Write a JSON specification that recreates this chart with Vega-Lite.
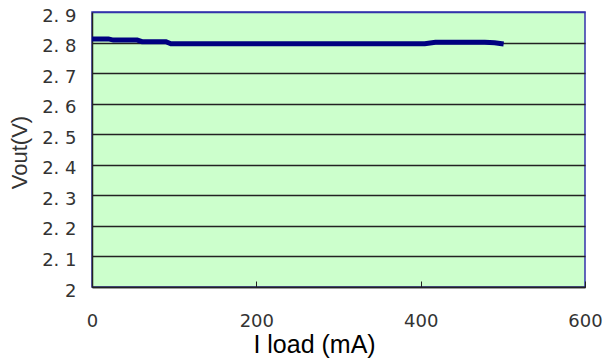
{
  "$schema": "https://vega.github.io/schema/vega-lite/v6.json",
  "autosize": {"type": "none"},
  "padding": {"left": 92, "top": 12, "right": 22, "bottom": 77},
  "width": 493,
  "height": 275,
  "background": "white",
  "config": {
    "view": {"fill": "#ccffcc", "stroke": "#3333aa", "strokeWidth": 1.5}
  },
  "data": {
    "values": [
      {"I": 0, "V": 2.812},
      {"I": 20, "V": 2.812},
      {"I": 26, "V": 2.808},
      {"I": 55, "V": 2.808},
      {"I": 61, "V": 2.803},
      {"I": 90, "V": 2.803},
      {"I": 96, "V": 2.796},
      {"I": 200, "V": 2.796},
      {"I": 300, "V": 2.796},
      {"I": 405, "V": 2.796},
      {"I": 418, "V": 2.801},
      {"I": 478, "V": 2.801},
      {"I": 490, "V": 2.799},
      {"I": 501, "V": 2.795}
    ]
  },
  "mark": {"type": "line", "color": "#000080", "strokeWidth": 5, "clip": true},
  "encoding": {
    "x": {
      "field": "I",
      "type": "quantitative",
      "scale": {"domain": [0, 600], "nice": false},
      "axis": {
        "values": [0, 200, 400, 600],
        "grid": false,
        "domainColor": "#222",
        "domainWidth": 1.5,
        "tickColor": "#222",
        "tickSize": -6,
        "labelFlush": false,
        "labelPadding": 31,
        "labelFont": "DejaVu Sans",
        "labelFontSize": 18,
        "labelColor": "#333",
        "title": "I load (mA)",
        "titleFont": "Liberation Sans",
        "titleFontSize": 25,
        "titleFontWeight": "normal",
        "titleColor": "#000",
        "titleX": 222,
        "titleY": 65,
        "titleAlign": "center",
        "titleBaseline": "alphabetic"
      }
    },
    "y": {
      "field": "V",
      "type": "quantitative",
      "scale": {"domain": [2, 2.9], "nice": false, "zero": false},
      "axis": {
        "values": [2, 2.1, 2.2, 2.3, 2.4, 2.5, 2.6, 2.7, 2.8, 2.9],
        "labelExpr": "datum.value == 2 ? '2' : replace(format(datum.value, '.1f'), '.', '. ')",
        "grid": true,
        "gridColor": {"condition": {"test": "datum.value >= 2.89", "value": "#3333aa"}, "value": "#222"},
        "gridWidth": 1.5,
        "gridOpacity": 1,
        "ticks": false,
        "domainColor": "#222",
        "domainWidth": 1.5,
        "labelPadding": 16,
        "labelOffset": 4,
        "labelFlush": false,
        "labelFont": "DejaVu Sans",
        "labelFontSize": 18,
        "labelColor": "#333",
        "title": "Vout(V)",
        "titleFont": "Liberation Sans",
        "titleFontSize": 22,
        "titleFontWeight": "normal",
        "titleColor": "#333",
        "titleAngle": -90,
        "titleX": -66,
        "titleY": 140,
        "titleAlign": "center",
        "titleBaseline": "alphabetic"
      }
    }
  }
}
